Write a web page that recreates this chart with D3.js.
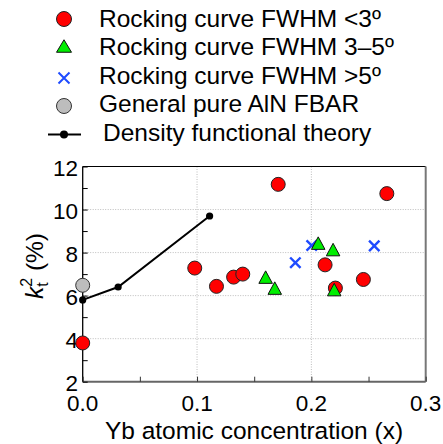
<!DOCTYPE html>
<html><head><meta charset="utf-8">
<script src="https://cdn.jsdelivr.net/npm/d3@7"></script>
<style>body{margin:0;background:#fff}svg{display:block;font-family:"Liberation Sans",Arial,sans-serif}</style>
</head><body><svg id="c" width="443" height="444"></svg>
<script>
// Data
const redX = [0.0, 0.098, 0.117, 0.132, 0.140, 0.171, 0.212, 0.221, 0.2455, 0.266];
const redY = [3.8, 7.28, 6.43, 6.86, 7.0, 11.17, 7.43, 6.35, 6.75, 10.74];
const greenX = [0.160, 0.168, 0.206, 0.219, 0.220];
const greenY = [6.79, 6.28, 8.37, 8.07, 6.21];
const blueX = [0.186, 0.2003, 0.255];
const blueY = [7.53, 8.33, 8.31];
const grayX = [0.0];
const grayY = [6.48];
const dftX = [0.0, 0.031, 0.111];
const dftY = [5.8, 6.4, 9.7];
const xTicks = [0.0, 0.1, 0.2, 0.3];
const xTickLabels = ["0.0", "0.1", "0.2", "0.3"];
const yTicks = [2, 4, 6, 8, 10, 12];
const legendLabels = ["Rocking curve FWHM <3º", "Rocking curve FWHM 3–5º", "Rocking curve FWHM >5º", "General pure AlN FBAR", "Density functional theory"];

const svg = d3.select("#c");
const L = 82.7, R = 425.7, T = 166.5, B = 381.7;
const x = d3.scaleLinear().domain([0, 0.3]).range([L, R]);
const y = d3.scaleLinear().domain([2, 12]).range([B, T]);

// gridlines
const g = svg.append("g");
g.selectAll("line.gy").data([4, 6, 8, 10]).join("line")
  .attr("x1", L).attr("x2", R).attr("y1", d => y(d)).attr("y2", d => y(d))
  .attr("stroke", "#bdbdbd").attr("stroke-width", 1).attr("stroke-dasharray", "1,1.5");
g.selectAll("line.gx").data([0.1, 0.2]).join("line")
  .attr("y1", T).attr("y2", B).attr("x1", d => x(d)).attr("x2", d => x(d))
  .attr("stroke", "#bdbdbd").attr("stroke-width", 1).attr("stroke-dasharray", "1,1.5");

// frame
svg.append("line").attr("x1", L).attr("x2", R).attr("y1", T).attr("y2", T).attr("stroke", "#000").attr("stroke-width", 1);
svg.append("line").attr("x1", R).attr("x2", R).attr("y1", T).attr("y2", B).attr("stroke", "#777").attr("stroke-width", 2);
svg.append("line").attr("x1", L).attr("x2", R).attr("y1", B).attr("y2", B).attr("stroke", "#666").attr("stroke-width", 2);
svg.append("line").attr("x1", L).attr("x2", L).attr("y1", T).attr("y2", B).attr("stroke", "#000").attr("stroke-width", 1.3);

// axes via d3 (inward ticks)
const xAxis = d3.axisBottom(x).tickValues(d3.range(0, 0.3001, 0.05).map(v => +v.toFixed(2))).tickSize(-5).tickFormat("");
const xa = svg.append("g").attr("transform", `translate(0,${B})`).call(xAxis);
xa.select(".domain").remove();
xa.selectAll("line").attr("stroke", "#333").attr("stroke-width", 1);
const yAxis = d3.axisLeft(y).tickValues(d3.range(2, 12.01, 1)).tickSize(-5).tickFormat("");
const ya = svg.append("g").attr("transform", `translate(${L},0)`).call(yAxis);
ya.select(".domain").remove();
ya.selectAll("line").attr("stroke", "#000").attr("stroke-width", 1);

// tick labels
svg.append("g").selectAll("text").data(yTicks).join("text")
  .attr("x", 78).attr("y", d => y(d) + 9.5).attr("text-anchor", "end")
  .attr("font-size", 22.5).attr("fill", "#000").text(d => d);
svg.append("g").selectAll("text").data(xTicks).join("text")
  .attr("x", d => x(d)).attr("y", 410.5).attr("text-anchor", "middle")
  .attr("font-size", 22.5).attr("fill", "#000").text((d, i) => xTickLabels[i]);

// axis titles
svg.append("text").attr("x", 254).attr("y", 439).attr("text-anchor", "middle")
  .attr("font-size", 24.5).text("Yb atomic concentration (x)");
const yt = svg.append("text").attr("transform", "translate(43,266) rotate(-90)")
  .attr("text-anchor", "middle").attr("font-size", 24.5);
yt.append("tspan").attr("font-style", "italic").text("k");
yt.append("tspan").attr("font-size", 16).attr("dy", 5).text("t");
yt.append("tspan").attr("font-size", 16).attr("dx", -4.5).attr("dy", -16).text("2");
yt.append("tspan").attr("dy", 11).text(" (%)");

// DFT line
const line = d3.line().x(d => x(d[0])).y(d => y(d[1]));
const dft = dftX.map((v, i) => [v, dftY[i]]);
svg.append("path").datum(dft).attr("d", line).attr("fill", "none").attr("stroke", "#000").attr("stroke-width", 2);
svg.append("g").selectAll("circle").data(dft).join("circle")
  .attr("cx", d => x(d[0])).attr("cy", d => y(d[1])).attr("r", 3.6).attr("fill", "#000");

// gray
svg.append("g").selectAll("circle").data(grayX.map((v, i) => [v, grayY[i]])).join("circle")
  .attr("cx", d => x(d[0])).attr("cy", d => y(d[1])).attr("r", 7).attr("fill", "#bdbdbd").attr("stroke", "#333").attr("stroke-width", 1);

// red
svg.append("g").selectAll("circle").data(redX.map((v, i) => [v, redY[i]])).join("circle")
  .attr("cx", d => x(d[0])).attr("cy", d => y(d[1])).attr("r", 7).attr("fill", "#ff0000").attr("stroke", "#222").attr("stroke-width", 1);

// blue crosses
const cross = (s) => `M${-s},${-s}L${s},${s}M${-s},${s}L${s},${-s}`;
svg.append("g").selectAll("path").data(blueX.map((v, i) => [v, blueY[i]])).join("path")
  .attr("transform", d => `translate(${x(d[0])},${y(d[1])})`).attr("d", cross(5.2))
  .attr("stroke", "#1f4bff").attr("stroke-width", 2.4).attr("fill", "none");

// green triangles
const tri = (w, h) => `M0,${-h * 0.62}L${w / 2},${h * 0.38}L${-w / 2},${h * 0.38}Z`;
svg.append("g").selectAll("path").data(greenX.map((v, i) => [v, greenY[i]])).join("path")
  .attr("transform", d => `translate(${x(d[0])},${y(d[1])})`).attr("d", tri(13.5, 12.5))
  .attr("fill", "#00ee00").attr("stroke", "#111").attr("stroke-width", 1);

// legend
const lg = svg.append("g");
const ly = [19, 47.5, 78, 106, 134.5];
const lbase = [26.5, 55, 83.5, 112, 140.5];
lg.append("circle").attr("cx", 64).attr("cy", ly[0]).attr("r", 7.5).attr("fill", "#ff0000").attr("stroke", "#222");
lg.append("path").attr("transform", `translate(64,${ly[1]})`).attr("d", tri(15, 12.5)).attr("fill", "#00ee00").attr("stroke", "#111");
lg.append("path").attr("transform", `translate(64,${ly[2]})`).attr("d", cross(5.5)).attr("stroke", "#1f4bff").attr("stroke-width", 2).attr("fill", "none");
lg.append("circle").attr("cx", 64).attr("cy", ly[3]).attr("r", 7.5).attr("fill", "#bdbdbd").attr("stroke", "#333");
lg.append("line").attr("x1", 48).attr("x2", 81).attr("y1", ly[4]).attr("y2", ly[4]).attr("stroke", "#000").attr("stroke-width", 2);
lg.append("circle").attr("cx", 64).attr("cy", ly[4]).attr("r", 4).attr("fill", "#000");
lg.selectAll("text").data(legendLabels).join("text")
  .attr("x", (d, i) => i === 4 ? 103 : 99).attr("y", (d, i) => lbase[i])
  .attr("font-size", 24.5).attr("fill", "#000").text(d => d);
</script></body></html>
